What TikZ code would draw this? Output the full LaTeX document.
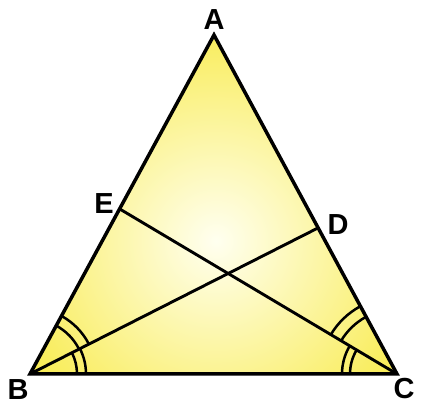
\documentclass[tikz,border=0pt]{standalone}
\usepackage{fontspec}
\setmainfont{Liberation Sans}
\usetikzlibrary{calc}
\definecolor{triyellow}{RGB}{246,229,28}
\definecolor{tripale}{RGB}{255,255,240}
\tikzset{
	lbl/.style={font=\bfseries\fontsize{29}{29}\selectfont, inner sep=0pt},
	side/.style={line width=3.5pt},
	cev/.style={line width=2.9pt},
	angarc/.style={line width=2.5pt}
}

\begin{document}
\begin{tikzpicture}[x=1pt,y=1pt]
	\useasboundingbox (0,0) rectangle (429,411);
	\coordinate (A) at (214,376);
	\coordinate (B) at (30,37);
	\coordinate (C) at (397,37);
	\coordinate (E) at ($(B)!0.487!(A)$);
	\coordinate (D) at ($(C)!0.431!(A)$);
	% fill
	\begin{scope}
		\clip (A) -- (B) -- (C) -- cycle;
		\shade[inner color=tripale, outer color=triyellow] (216,170) circle (300);
	\end{scope}
	% cevians
	\draw[cev] (B) -- (D);
	\draw[cev] (C) -- (E);
	% angle marks at B
	\draw[angarc] ($(B)+(0:47)$) arc[start angle=0, end angle=26.9, radius=47];
	\draw[angarc] ($(B)+(0:56)$) arc[start angle=0, end angle=26.9, radius=56];
	\draw[angarc] ($(B)+(26.9:55)$) arc[start angle=26.9, end angle=61.5, radius=55];
	\draw[angarc] ($(B)+(26.9:66)$) arc[start angle=26.9, end angle=61.5, radius=66];
	% angle marks at C
	\draw[angarc] ($(C)+(180:47)$) arc[start angle=180, end angle=149.2, radius=47];
	\draw[angarc] ($(C)+(180:55)$) arc[start angle=180, end angle=149.2, radius=55];
	\draw[angarc] ($(C)+(149.2:65)$) arc[start angle=149.2, end angle=118.4, radius=65];
	\draw[angarc] ($(C)+(149.2:77)$) arc[start angle=149.2, end angle=118.4, radius=77];
	% triangle
	\draw[side] (A) -- (B) -- (C) -- cycle;
	% labels
	\node (a) [lbl] at (214,391) {A};
	\node (b) [lbl] at (18,21) {B};
	\node (c) [lbl] at (404,22) {C};
	\node (e) [lbl] at (104,207) {E};
	\node (d) [lbl] at (338,186) {D};
\end{tikzpicture}
\end{document}
